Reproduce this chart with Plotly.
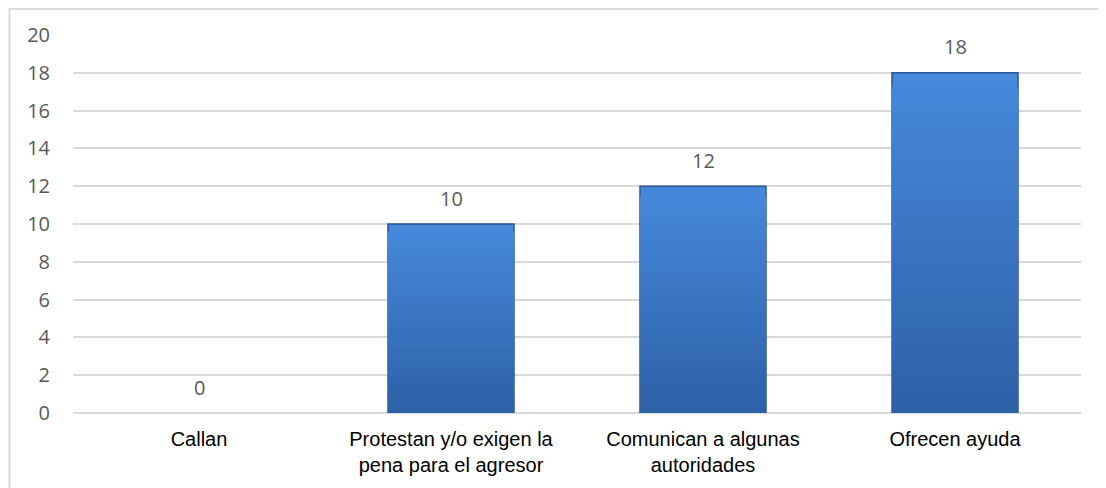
import plotly.graph_objects as go

categories = ["Callan", "Protestan y/o exigen la<br>pena para el agresor",
              "Comunican a algunas<br>autoridades", "Ofrecen ayuda"]
values = [0, 10, 12, 18]
y_ticks = [0, 2, 4, 6, 8, 10, 12, 14, 16, 18, 20]

top_rgb = (70, 136, 218)
bot_rgb = (45, 96, 166)
N = 24

fig = go.Figure()
# gradient bars (light at top, dark at bottom) built from overlapping layers
for i in range(N):
    f = i / N
    r = [round(top_rgb[k] + (bot_rgb[k] - top_rgb[k]) * f) for k in range(3)]
    col = f"rgb({r[0]},{r[1]},{r[2]})"
    fig.add_trace(go.Bar(
        x=categories, y=[v * (1 - f) for v in values], width=0.5,
        marker=dict(color=col,
                    line=dict(color="#2A5591" if i == 0 else col,
                              width=[1.5 if (i == 0 and v > 0) else 0 for v in values])),
        hoverinfo="skip" if i else "y", showlegend=False))

for c, v in zip(categories, values):
    fig.add_annotation(x=c, y=v, text=str(v), showarrow=False, yshift=26,
                       font=dict(family="Open Sans", size=20, color="#595959"))

fig.add_shape(type="rect", xref="paper", yref="paper",
              x0=-0.0630, x1=1.03, y0=-0.3, y1=1.0685,
              line=dict(color="#D9D9D9", width=2), fillcolor="rgba(0,0,0,0)", layer="below")

fig.update_layout(
    barmode="overlay",
    width=1098, height=480,
    margin=dict(l=65, r=25, t=27, b=75),
    paper_bgcolor="white", plot_bgcolor="white",
    xaxis=dict(tickfont=dict(family="Liberation Sans", size=20, color="#000000"),
               showgrid=False, showline=False, ticks="", ticklabelstandoff=12),
    yaxis=dict(range=[0, 20], tickvals=y_ticks, showgrid=True, gridcolor="#D9D9D9",
               gridwidth=1.5, zeroline=True, zerolinecolor="#D9D9D9", zerolinewidth=2,
               tickfont=dict(family="Open Sans", size=20, color="#595959"),
               ticks="", ticklabelstandoff=22),
)

fig.write_html("out.html")
